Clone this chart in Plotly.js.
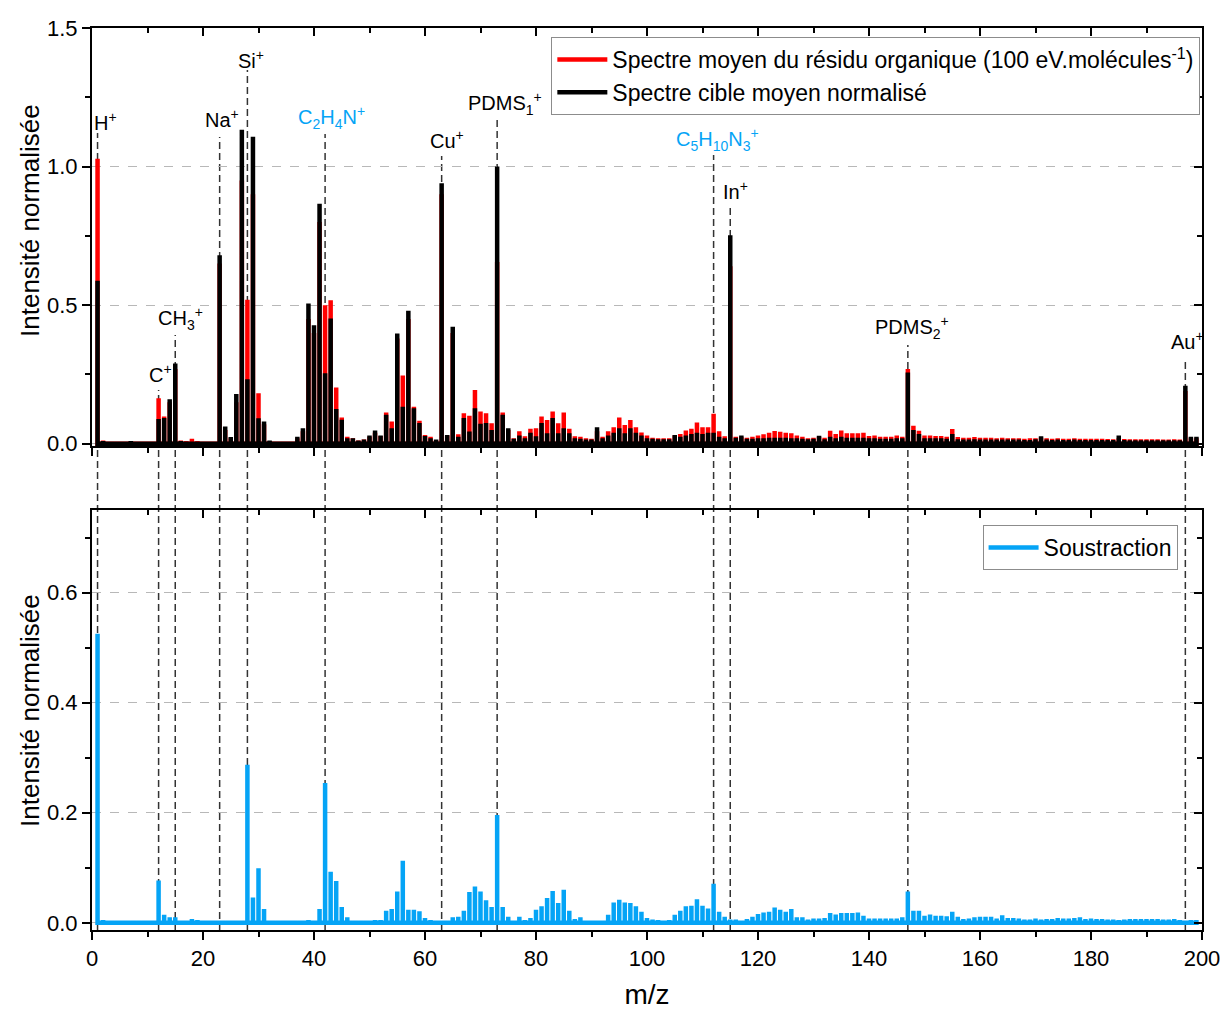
<!DOCTYPE html>
<html>
<head>
<meta charset="utf-8">
<script src="https://cdn.plot.ly/plotly-3.0.1.min.js"></script>
<style>html,body{margin:0;padding:0;background:#fff;}</style>
</head>
<body>
<div id="chart" style="width:1223px;height:1010px;"></div>
<script>
// m/z values (unit masses)
const masses = [1,2,3,4,5,6,7,8,9,10,11,12,13,14,15,16,17,18,19,20,21,22,23,24,25,26,27,28,29,30,31,32,33,34,35,36,37,38,39,40,41,42,43,44,45,46,47,48,49,50,51,52,53,54,55,56,57,58,59,60,61,62,63,64,65,66,67,68,69,70,71,72,73,74,75,76,77,78,79,80,81,82,83,84,85,86,87,88,89,90,91,92,93,94,95,96,97,98,99,100,101,102,103,104,105,106,107,108,109,110,111,112,113,114,115,116,117,118,119,120,121,122,123,124,125,126,127,128,129,130,131,132,133,134,135,136,137,138,139,140,141,142,143,144,145,146,147,148,149,150,151,152,153,154,155,156,157,158,159,160,161,162,163,164,165,166,167,168,169,170,171,172,173,174,175,176,177,178,179,180,181,182,183,184,185,186,187,188,189,190,191,192,193,194,195,196,197,198,199];

// Spectre moyen du résidu organique (red)
const residu = [1.028,0.012,0.005,0.005,0.005,0.005,0.010,0.005,0.005,0.005,0.006,0.164,0.098,0.150,0.270,0.012,0.010,0.018,0.010,0.006,0.006,0.006,0.650,0.050,0.020,0.150,0.950,0.520,0.900,0.182,0.070,0.010,0.006,0.006,0.006,0.006,0.020,0.045,0.450,0.400,0.800,0.500,0.518,0.203,0.095,0.025,0.020,0.012,0.015,0.025,0.040,0.028,0.113,0.080,0.380,0.246,0.450,0.134,0.083,0.032,0.025,0.012,0.900,0.030,0.400,0.034,0.110,0.101,0.194,0.116,0.110,0.074,0.656,0.113,0.050,0.020,0.045,0.027,0.054,0.056,0.098,0.086,0.116,0.074,0.113,0.054,0.027,0.025,0.020,0.018,0.045,0.025,0.045,0.060,0.095,0.068,0.086,0.060,0.041,0.030,0.022,0.020,0.020,0.020,0.030,0.035,0.048,0.054,0.077,0.060,0.060,0.108,0.045,0.027,0.640,0.025,0.025,0.022,0.025,0.030,0.034,0.040,0.046,0.043,0.040,0.038,0.030,0.025,0.020,0.022,0.025,0.022,0.047,0.035,0.048,0.038,0.038,0.038,0.040,0.028,0.030,0.025,0.025,0.025,0.030,0.025,0.270,0.065,0.047,0.030,0.030,0.028,0.028,0.025,0.053,0.024,0.022,0.022,0.024,0.022,0.022,0.022,0.020,0.022,0.020,0.020,0.020,0.018,0.020,0.020,0.022,0.020,0.018,0.020,0.018,0.018,0.020,0.018,0.018,0.018,0.018,0.018,0.017,0.016,0.020,0.017,0.016,0.016,0.016,0.016,0.016,0.016,0.015,0.015,0.016,0.015,0.190,0.020,0.020];

// Spectre cible moyen normalisé (black)
const cible = [0.588,0.010,0.004,0.004,0.004,0.004,0.010,0.004,0.004,0.004,0.005,0.089,0.093,0.161,0.290,0.010,0.008,0.006,0.006,0.006,0.006,0.008,0.680,0.062,0.024,0.180,1.133,0.233,1.108,0.092,0.080,0.012,0.006,0.006,0.006,0.008,0.025,0.056,0.506,0.428,0.866,0.254,0.452,0.125,0.087,0.020,0.020,0.012,0.015,0.030,0.048,0.030,0.105,0.056,0.398,0.134,0.480,0.128,0.075,0.028,0.020,0.015,0.940,0.032,0.422,0.025,0.093,0.044,0.128,0.072,0.075,0.050,1.000,0.105,0.056,0.018,0.030,0.020,0.040,0.027,0.075,0.038,0.093,0.038,0.056,0.038,0.020,0.018,0.015,0.015,0.060,0.020,0.030,0.040,0.056,0.038,0.056,0.040,0.030,0.020,0.018,0.016,0.016,0.016,0.032,0.025,0.030,0.035,0.040,0.035,0.040,0.040,0.025,0.020,0.752,0.022,0.030,0.018,0.018,0.020,0.020,0.022,0.022,0.022,0.022,0.020,0.020,0.018,0.016,0.018,0.029,0.016,0.025,0.020,0.025,0.022,0.022,0.022,0.022,0.020,0.020,0.018,0.018,0.018,0.020,0.020,0.257,0.050,0.035,0.020,0.020,0.020,0.020,0.018,0.035,0.016,0.015,0.015,0.016,0.015,0.015,0.015,0.015,0.015,0.015,0.015,0.015,0.014,0.014,0.016,0.027,0.015,0.014,0.015,0.014,0.014,0.015,0.014,0.014,0.014,0.014,0.014,0.014,0.014,0.030,0.014,0.013,0.013,0.013,0.013,0.013,0.013,0.013,0.013,0.013,0.013,0.209,0.025,0.025];

// Soustraction (blue)
const soustraction = [0.525,0.005,0.003,0.003,0.003,0.003,0.003,0.003,0.003,0.003,0.003,0.077,0.0145,0.010,0.010,0.004,0.004,0.007,0.005,0.002,0.002,0.002,0.002,0.002,0.002,0.002,0.002,0.287,0.046,0.099,0.025,0.004,0.002,0.002,0.002,0.002,0.002,0.002,0.005,0.002,0.025,0.254,0.093,0.076,0.029,0.010,0.004,0.003,0.003,0.004,0.005,0.005,0.022,0.025,0.057,0.113,0.024,0.024,0.021,0.009,0.005,0.002,0.002,0.003,0.010,0.011,0.022,0.056,0.066,0.057,0.041,0.029,0.196,0.029,0.011,0.004,0.011,0.005,0.009,0.024,0.030,0.045,0.058,0.036,0.060,0.022,0.007,0.010,0.004,0.003,0.002,0.004,0.0145,0.037,0.042,0.037,0.036,0.030,0.020,0.009,0.006,0.005,0.004,0.005,0.0145,0.022,0.030,0.031,0.043,0.031,0.026,0.071,0.020,0.011,0.006,0.006,0.003,0.007,0.011,0.016,0.019,0.020,0.028,0.024,0.020,0.025,0.010,0.010,0.006,0.008,0.008,0.009,0.018,0.015,0.018,0.018,0.018,0.019,0.013,0.008,0.008,0.008,0.008,0.008,0.008,0.010,0.057,0.022,0.022,0.013,0.015,0.013,0.013,0.012,0.020,0.011,0.007,0.008,0.010,0.011,0.011,0.011,0.008,0.014,0.009,0.009,0.008,0.006,0.006,0.008,0.006,0.007,0.007,0.009,0.008,0.008,0.009,0.010,0.007,0.008,0.007,0.007,0.006,0.006,0.005,0.006,0.007,0.007,0.007,0.007,0.007,0.007,0.006,0.006,0.007,0.005,0.004,0.005,0.005];

// Ion labels
const ionMasses = [1, 12, 15, 23, 28, 42, 63, 73, 112, 115, 147, 197];
const ionLabels = ['H<sup>+</sup>', 'C<sup>+</sup>', 'CH<sub>3</sub><sup>+</sup>', 'Na<sup>+</sup>', 'Si<sup>+</sup>',
  'C<sub>2</sub>H<sub>4</sub>N<sup>+</sup>', 'Cu<sup>+</sup>', 'PDMS<sub>1</sub><sup>+</sup>',
  'C<sub>5</sub>H<sub>10</sub>N<sub>3</sub><sup>+</sup>', 'In<sup>+</sup>', 'PDMS<sub>2</sub><sup>+</sup>', 'Au<sup>+</sup>'];
const ionOrganic = [false, false, false, false, false, true, false, false, true, false, false, false];

// label placement (style): label y in top-axis units, horizontal shift px, dashed-line top in paper units
const labelY = [1.162, 0.255, 0.453, 1.173, 1.388, 1.176, 1.097, 1.227, 1.097, 0.914, 0.421, 0.371];
const labelShift = [8, 2, 5, 2, 4, 6, 5, 8, 4, 5, 4, 2];
const lineTop = [0.8836, 0.5987, 0.6596, 0.8792, 0.9534, 0.8825, 0.8581, 0.9002, 0.8592, 0.8038, 0.6486, 0.6341];

const BLUE = '#05A4F6';
const FONT = 'Liberation Sans, Arial, Helvetica, sans-serif';

function stick(ms, hs) {
  const x = [], y = [];
  for (let i = 0; i < ms.length; i++) {
    x.push(ms[i], ms[i], ms[i]);
    y.push(0, hs[i], 0);
  }
  return {x, y};
}

const sR = stick(masses, residu);
const sB = stick(masses, cible);
const sS = stick(masses, soustraction);

const traces = [
  {x: sR.x, y: sR.y, xaxis: 'x2', yaxis: 'y2', type: 'scatter', mode: 'lines',
   line: {color: '#FF0000', width: 4.5}, name: 'Spectre moyen du résidu organique (100 eV.molécules<sup>-1</sup>)', legend: 'legend'},
  {x: sB.x, y: sB.y, xaxis: 'x2', yaxis: 'y2', type: 'scatter', mode: 'lines',
   line: {color: '#000000', width: 4.5}, name: 'Spectre cible moyen normalisé', legend: 'legend'},
  {x: sS.x, y: sS.y, xaxis: 'x', yaxis: 'y', type: 'scatter', mode: 'lines',
   line: {color: BLUE, width: 4.5}, name: 'Soustraction', legend: 'legend2'},
  // empty traces to host mirrored inward ticks
  {x: [], y: [], xaxis: 'x3', yaxis: 'y3', showlegend: false, hoverinfo: 'skip'},
  {x: [], y: [], xaxis: 'x4', yaxis: 'y4', showlegend: false, hoverinfo: 'skip'}
];

const topDomain = [0.5366, 1];
const botDomain = [0, 0.4656];
const xRange = [0, 200];
const yTopRange = [-0.008, 1.5];
const yBotRange = [-0.013, 0.75];

const common = {
  showline: true, linecolor: '#000', linewidth: 2, mirror: true,
  ticks: 'outside', ticklen: 8, tickwidth: 2, tickcolor: '#000',
  zeroline: false, showgrid: false,
  tickfont: {family: FONT, size: 22, color: '#000'}
};

const innerTicks = {
  showline: false, ticks: 'inside', ticklen: 8, tickwidth: 2, tickcolor: '#000',
  showticklabels: false, showgrid: false, zeroline: false
};

const shapes = ionMasses.map((m, i) => ({
  type: 'line', xref: 'x', yref: 'paper', x0: m, x1: m, y0: 0, y1: lineTop[i],
  layer: 'below', line: {color: '#333333', width: 1.5, dash: '7px,4px'}
}));

const annotations = ionMasses.map((m, i) => ({
  x: m, y: labelY[i], xref: 'x2', yref: 'y2', xshift: labelShift[i],
  text: ionLabels[i], showarrow: false, xanchor: 'center', yanchor: 'middle',
  font: {family: FONT, size: 20, color: ionOrganic[i] ? BLUE : '#000'}
}));

// y-axis titles as rotated text
annotations.push(
  {x: -0.0559, y: 0.7871, xref: 'paper', yref: 'paper', text: 'Intensité normalisée', textangle: -90,
   showarrow: false, xanchor: 'center', yanchor: 'middle', font: {family: FONT, size: 26, color: '#000'}},
  {x: -0.0559, y: 0.2439, xref: 'paper', yref: 'paper', text: 'Intensité normalisée', textangle: -90,
   showarrow: false, xanchor: 'center', yanchor: 'middle', font: {family: FONT, size: 26, color: '#000'}}
);

const layout = {
  width: 1223, height: 1010,
  margin: {l: 92, r: 21, t: 28, b: 80},
  paper_bgcolor: '#fff', plot_bgcolor: 'rgba(0,0,0,0)',
  font: {family: FONT, color: '#000'},
  showlegend: true,
  xaxis: Object.assign({}, common, {
    domain: [0, 1], anchor: 'y', range: xRange, tick0: 0, dtick: 20,
    minor: {dtick: 10, ticks: 'outside', ticklen: 5, tickwidth: 2, tickcolor: '#000'},
    title: {text: 'm/z', font: {family: FONT, size: 28}, standoff: 16}
  }),
  yaxis: Object.assign({}, common, {
    domain: botDomain, anchor: 'x', range: yBotRange, tick0: 0, dtick: 0.2, tickformat: '.1f',
    showgrid: true, gridcolor: '#b8b8b8', gridwidth: 1, griddash: 'dash',
    minor: {dtick: 0.1, ticks: 'outside', ticklen: 5, tickwidth: 2, tickcolor: '#000'}
  }),
  xaxis2: Object.assign({}, common, {
    domain: [0, 1], anchor: 'y2', range: xRange, tick0: 0, dtick: 20, showticklabels: false,
    minor: {dtick: 10, ticks: 'outside', ticklen: 5, tickwidth: 2, tickcolor: '#000'}
  }),
  yaxis2: Object.assign({}, common, {
    domain: topDomain, anchor: 'x2', range: yTopRange, tick0: 0, dtick: 0.5, tickformat: '.1f',
    showgrid: true, gridcolor: '#b8b8b8', gridwidth: 1, griddash: 'dash',
    minor: {dtick: 0.25, ticks: 'outside', ticklen: 5, tickwidth: 2, tickcolor: '#000'}
  }),
  xaxis3: Object.assign({}, innerTicks, {
    overlaying: 'x', anchor: 'y3', side: 'top', range: xRange, tick0: 0, dtick: 20,
    minor: {dtick: 10, ticks: 'inside', ticklen: 5, tickwidth: 2, tickcolor: '#000'}
  }),
  yaxis3: Object.assign({}, innerTicks, {
    overlaying: 'y', anchor: 'x3', side: 'right', domain: botDomain, range: yBotRange, tick0: 0, dtick: 0.2,
    minor: {dtick: 0.1, ticks: 'inside', ticklen: 5, tickwidth: 2, tickcolor: '#000'}
  }),
  xaxis4: Object.assign({}, innerTicks, {
    overlaying: 'x2', anchor: 'y4', side: 'top', range: xRange, tick0: 0, dtick: 20,
    minor: {dtick: 10, ticks: 'inside', ticklen: 5, tickwidth: 2, tickcolor: '#000'}
  }),
  yaxis4: Object.assign({}, innerTicks, {
    overlaying: 'y2', anchor: 'x4', side: 'right', domain: topDomain, range: yTopRange, tick0: 0, dtick: 0.5,
    minor: {dtick: 0.25, ticks: 'inside', ticklen: 5, tickwidth: 2, tickcolor: '#000'}
  }),
  legend: {
    x: 0.9985, xanchor: 'right', y: 0.99, yanchor: 'top', itemwidth: 50,
    bgcolor: '#fff', bordercolor: '#8c8c8c', borderwidth: 1,
    font: {family: FONT, size: 23, color: '#000'}, tracegroupgap: 0
  },
  legend2: {
    x: 0.978, xanchor: 'right', y: 0.449, yanchor: 'top', itemwidth: 50,
    bgcolor: '#fff', bordercolor: '#8c8c8c', borderwidth: 1,
    font: {family: FONT, size: 23, color: '#000'}
  },
  shapes: shapes,
  annotations: annotations
};

Plotly.newPlot('chart', traces, layout, {staticPlot: true, displayModeBar: false});
</script>
</body>
</html>
